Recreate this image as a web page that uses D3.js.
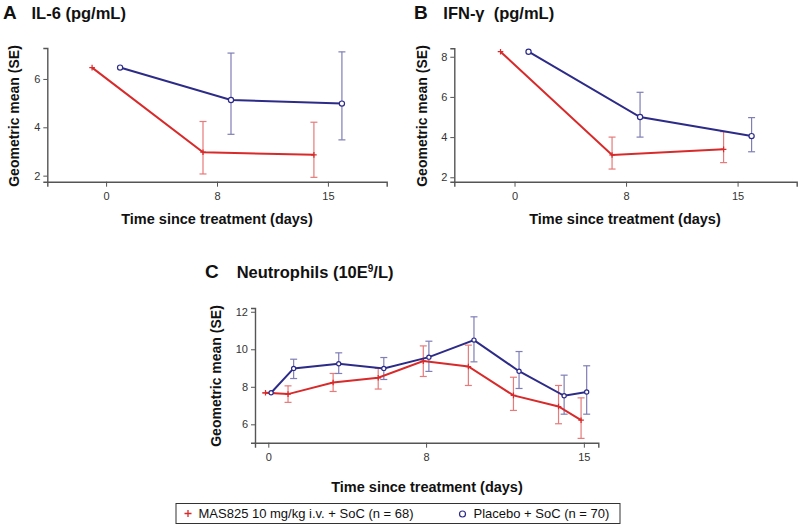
<!DOCTYPE html>
<html>
<head>
<meta charset="utf-8">
<script src="https://cdn.jsdelivr.net/npm/d3@7"></script>
<style>
  body { margin: 0; background: #fff; }
  svg { display: block; font-family: "Liberation Sans", Arial, sans-serif; }
</style>
</head>
<body>
<svg id="chart" width="800" height="528"></svg>
<script>
// ---------- DATA ----------
// Panels A and B: visits (index) labelled with days
const abVisits = [0, 1, 2];
const abTickLabels = ["0", "8", "15"];

const il6Mas = [6.47, 2.97, 2.86];
const il6MasLo = [null, 2.07, 1.93];
const il6MasHi = [null, 4.24, 4.21];
const il6Pbo = [6.47, 5.13, 4.98];
const il6PboLo = [null, 3.71, 3.48];
const il6PboHi = [null, 7.07, 7.12];

const ifnMas = [8.25, 3.11, 3.39];
const ifnMasLo = [null, 2.41, 2.73];
const ifnMasHi = [null, 4.00, 4.27];
const ifnPbo = [8.25, 5.00, 4.05];
const ifnPboLo = [null, 4.00, 3.27];
const ifnPboHi = [null, 6.23, 4.97];

// Panel C: visit positions on the time axis, tick positions and labels
const neuVisits = [0, 0.5, 1.5, 2.5, 3.5, 4.5, 5.5, 6.5, 7];
const neuTickPos = [0, 3.5, 7];
const neuTickLabels = ["0", "8", "15"];

const neuMas = [7.68, 7.61, 8.23, 8.48, 9.37, 9.08, 7.54, 6.95, 6.22];
const neuMasLo = [7.68, 7.17, 7.75, 7.88, 8.55, 8.07, 6.74, 6.03, 5.25];
const neuMasHi = [7.68, 8.05, 8.71, 8.98, 10.18, 10.22, 8.51, 8.07, 7.41];
const neuPbo = [7.68, 8.98, 9.23, 8.98, 9.58, 10.49, 8.83, 7.52, 7.72];
const neuPboLo = [7.68, 8.44, 8.71, 8.39, 8.82, 9.33, 7.91, 6.54, 6.54];
const neuPboHi = [7.68, 9.47, 9.81, 9.56, 10.43, 11.73, 9.88, 8.62, 9.12];

const seriesNames = ["MAS825 10 mg/kg i.v. + SoC (n = 68)", "Placebo + SoC (n = 70)"];

// ---------- STYLE ----------
const RED = "#d82a2a", RED_ERR = "#e77a7a";
const BLUE = "#2d2b88", BLUE_ERR = "#7f7eb6";
const AXIS = "#555";

const svg = d3.select("#chart");

function panel(cfg) {
  const g = svg.append("g");
  const x = d3.scaleLinear().domain(cfg.xDomain).range([cfg.left, cfg.right]);
  const y = d3.scaleLinear().domain(cfg.yDomain).range([cfg.bottom, cfg.top]);

  // axes
  const yAxis = g.append("g").attr("transform", `translate(${cfg.left},0)`)
    .call(d3.axisLeft(y).tickValues(cfg.yTicks).tickFormat(d3.format("d"))
      .tickSizeOuter(0).tickSize(4).tickPadding(3));
  const xAxis = g.append("g").attr("transform", `translate(0,${cfg.bottom})`)
    .call(d3.axisBottom(x).tickValues(cfg.xTickPos).tickFormat((d, i) => cfg.xTickLabels[i])
      .tickSizeOuter(0).tickSize(5).tickPadding(6));
  [yAxis, xAxis].forEach(a => {
    a.select(".domain").attr("stroke", AXIS).attr("stroke-width", 1.4);
    a.selectAll(".tick line").attr("stroke", AXIS).attr("stroke-width", 1);
    a.selectAll(".tick text").attr("fill", "#333").style("font-size", "11px")
      .style("font-family", "'Liberation Sans', Arial, sans-serif");
  });

  const series = [
    { v: cfg.mas, lo: cfg.masLo, hi: cfg.masHi, color: RED, err: RED_ERR, dx: -cfg.dodge, mark: "plus" },
    { v: cfg.pbo, lo: cfg.pboLo, hi: cfg.pboHi, color: BLUE, err: BLUE_ERR, dx: cfg.dodge, mark: "circle" }
  ];
  const cap = cfg.cap;

  series.forEach(s => {
    const pts = cfg.visits.map((t, i) => ({ t, v: s.v[i], lo: s.lo[i], hi: s.hi[i] }));
    const eg = g.append("g").attr("stroke", s.err).attr("stroke-width", 1.2).attr("fill", "none");
    pts.filter(p => p.lo != null).forEach(p => {
      const cx = x(p.t) + s.dx;
      eg.append("line").attr("x1", cx).attr("x2", cx).attr("y1", y(p.lo)).attr("y2", y(p.hi));
      eg.append("line").attr("x1", cx - cap).attr("x2", cx + cap).attr("y1", y(p.lo)).attr("y2", y(p.lo));
      eg.append("line").attr("x1", cx - cap).attr("x2", cx + cap).attr("y1", y(p.hi)).attr("y2", y(p.hi));
    });
  });
  series.forEach(s => {
    const pts = cfg.visits.map((t, i) => ({ t, v: s.v[i] }));
    g.append("path").datum(pts)
      .attr("d", d3.line().x(p => x(p.t) + s.dx).y(p => y(p.v)))
      .attr("fill", "none").attr("stroke", s.color).attr("stroke-width", 2);
    pts.forEach(p => {
      const cx = x(p.t) + s.dx, cy = y(p.v);
      if (s.mark === "circle") {
        g.append("circle").attr("cx", cx).attr("cy", cy).attr("r", cfg.markR)
          .attr("fill", "#fff").attr("stroke", s.color).attr("stroke-width", 1.2);
      } else {
        g.append("path").attr("d", `M${cx - 2.8},${cy}H${cx + 2.8}M${cx},${cy - 2.8}V${cy + 2.8}`)
          .attr("stroke", s.color).attr("stroke-width", 1.2);
      }
    });
  });

  // titles
  g.append("text").attr("x", cfg.letterX).attr("y", cfg.titleY)
    .style("font-weight", "bold").style("font-size", "19px").attr("fill", "#111").text(cfg.letter);
  const tt = g.append("text").attr("x", cfg.titleX).attr("y", cfg.titleY)
    .style("font-weight", "bold").style("font-size", "16.5px").attr("fill", "#111");
  cfg.titleParts.forEach(p => {
    const ts = tt.append("tspan").text(p.text);
    if (p.sup) ts.attr("dy", -6).style("font-size", "10px");
    if (p.after) ts.attr("dy", 6);
  });

  g.append("text")
    .attr("transform", `translate(${cfg.yLabelX},${cfg.yLabelY}) rotate(-90)`)
    .attr("text-anchor", "middle").style("font-weight", "bold").style("font-size", "14px")
    .attr("fill", "#111").text("Geometric mean (SE)");
  g.append("text").attr("x", cfg.xLabelX).attr("y", cfg.xLabelY)
    .attr("text-anchor", "middle").style("font-weight", "bold").style("font-size", "14.5px")
    .attr("fill", "#111").text("Time since treatment (days)");
}

panel({
  left: 47.3, right: 386.7, top: 48, bottom: 181.7,
  xDomain: [-0.53, 2.53], yDomain: [1.75, 7.28], yTicks: [2, 4, 6],
  visits: abVisits, xTickPos: abVisits, xTickLabels: abTickLabels,
  mas: il6Mas, masLo: il6MasLo, masHi: il6MasHi,
  pbo: il6Pbo, pboLo: il6PboLo, pboHi: il6PboHi,
  dodge: 14, cap: 3.5, markR: 2.6,
  letter: "A", letterX: 3, titleX: 31.5, titleY: 18.5,
  titleParts: [{ text: "IL-6 (pg/mL)" }],
  yLabelX: 19, yLabelY: 116, xLabelX: 217, xLabelY: 223.5
});

panel({
  left: 454.3, right: 796.7, top: 48.3, bottom: 181.7,
  xDomain: [-0.54, 2.53], yDomain: [1.78, 8.42], yTicks: [2, 4, 6, 8],
  visits: abVisits, xTickPos: abVisits, xTickLabels: abTickLabels,
  mas: ifnMas, masLo: ifnMasLo, masHi: ifnMasHi,
  pbo: ifnPbo, pboLo: ifnPboLo, pboHi: ifnPboHi,
  dodge: 14, cap: 3.5, markR: 2.6,
  letter: "B", letterX: 414, titleX: 443.3, titleY: 18.5,
  titleParts: [{ text: "IFN-\u03B3\u00A0 (pg/mL)" }],
  yLabelX: 427, yLabelY: 116, xLabelX: 625, xLabelY: 223.5
});

panel({
  left: 255, right: 598.3, top: 308, bottom: 442.7,
  xDomain: [-0.295, 7.32], yDomain: [5.02, 12.2], yTicks: [6, 8, 10, 12],
  visits: neuVisits, xTickPos: neuTickPos, xTickLabels: neuTickLabels,
  mas: neuMas, masLo: neuMasLo, masHi: neuMasHi,
  pbo: neuPbo, pboLo: neuPboLo, pboHi: neuPboHi,
  dodge: 2.8, cap: 3.5, markR: 2.1,
  letter: "C", letterX: 205, titleX: 236.7, titleY: 278,
  titleParts: [{ text: "Neutrophils (10E" }, { text: "9", sup: true }, { text: "/L)", after: true }],
  yLabelX: 221, yLabelY: 376, xLabelX: 427, xLabelY: 492
});

// legend
const lg = svg.append("g");
lg.append("rect").attr("x", 176).attr("y", 503.5).attr("width", 444).attr("height", 20)
  .attr("fill", "#fff").attr("stroke", "#333").attr("stroke-width", 1);
const lyc = 513.5;
lg.append("path").attr("d", `M184.5,${lyc}H191.5M188,${lyc - 3.5}V${lyc + 3.5}`)
  .attr("stroke", RED).attr("stroke-width", 1.3);
lg.append("text").attr("x", 198.5).attr("y", 518).style("font-size", "13px").attr("fill", "#111").text(seriesNames[0]);
lg.append("circle").attr("cx", 462.5).attr("cy", lyc + 0.5).attr("r", 3).attr("fill", "#fff")
  .attr("stroke", BLUE).attr("stroke-width", 1.2);
lg.append("text").attr("x", 473.5).attr("y", 518).style("font-size", "13px").attr("fill", "#111").text(seriesNames[1]);
</script>
</body>
</html>
